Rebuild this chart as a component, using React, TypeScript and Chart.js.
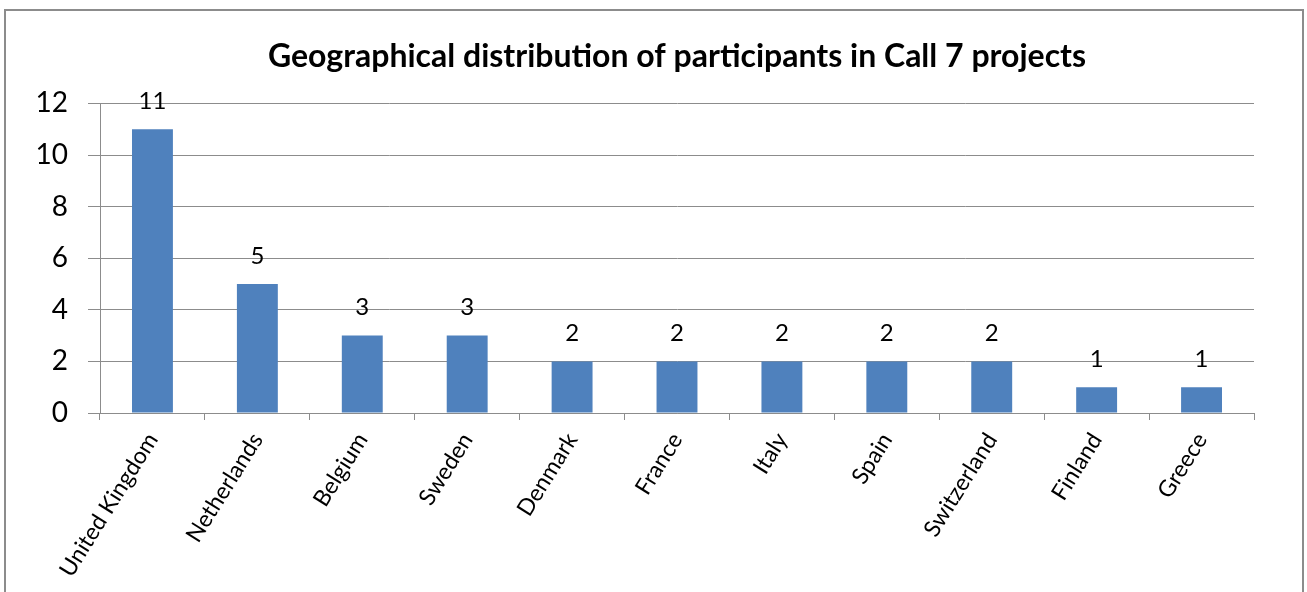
import React, { useEffect, useRef } from "react";
import { Chart, registerables } from "chart.js";

Chart.register(...registerables);

const categories = ["United Kingdom", "Netherlands", "Belgium", "Sweden", "Denmark", "France", "Italy", "Spain", "Switzerland", "Finland", "Greece"];
const participants = [11, 5, 3, 3, 2, 2, 2, 2, 2, 1, 1];
const yTicks = [0, 2, 4, 6, 8, 10, 12];
const titleText = "Geographical distribution of participants in Call 7 projects";

const FONT = "Lato, 'Open Sans', sans-serif";

const framePlugin = {
  id: "frame",
  beforeDraw(chart: any) {
    const ctx = chart.ctx;
    ctx.save();
    ctx.fillStyle = "#ffffff";
    ctx.fillRect(0, 0, chart.width, chart.height);
    ctx.strokeStyle = "#8c8c8c";
    ctx.lineWidth = 2;
    ctx.strokeRect(5, 10, 1298, 620);
    ctx.restore();
  },
};

const valueLabelPlugin = {
  id: "valueLabels",
  afterDatasetsDraw(chart: any) {
    const ctx = chart.ctx;
    const meta = chart.getDatasetMeta(0);
    ctx.save();
    ctx.fillStyle = "#000000";
    ctx.font = `24px ${FONT}`;
    ctx.textAlign = "center";
    ctx.textBaseline = "middle";
    meta.data.forEach((bar: any, i: number) => {
      ctx.fillText(String(participants[i]), bar.x, bar.y - 28);
    });
    ctx.restore();
  },
};

export default function App() {
  const ref = useRef<HTMLCanvasElement>(null);
  useEffect(() => {
    if (!ref.current) return;
    const chart = new Chart(ref.current, {
      type: "bar",
      data: {
        labels: categories,
        datasets: [
          {
            data: participants,
            backgroundColor: "#4F81BD",
            borderWidth: 0,
            barPercentage: 0.39,
            categoryPercentage: 1,
          },
        ],
      },
      options: {
        animation: false,
        responsive: true,
        maintainAspectRatio: false,
        layout: { padding: { left: 0, right: 53, top: 0, bottom: 0 } },
        plugins: {
          legend: { display: false },
          tooltip: { enabled: false },
          title: {
            display: true,
            fullSize: false,
            text: titleText,
            color: "#000000",
            font: { family: FONT, size: 32, weight: "bold" },
            padding: { top: 37, bottom: 28 },
          },
        },
        scales: {
          x: {
            offset: true,
            grid: { drawOnChartArea: false, drawTicks: true, tickLength: 7, color: "#8c8c8c", offset: true },
            border: { color: "#8c8c8c", width: 1 },
            ticks: {
              color: "#000000",
              font: { family: FONT, size: 23 },
              minRotation: 58,
              maxRotation: 58,
              autoSkip: false,
              padding: 8,
            },
            afterFit(scale: any) {
              scale.height = 592 - 413;
            },
          },
          y: {
            min: 0,
            max: 12,
            afterBuildTicks(scale: any) {
              scale.ticks = yTicks.map((v) => ({ value: v }));
            },
            grid: { color: "#8c8c8c", tickLength: 12, drawTicks: true },
            border: { color: "#8c8c8c", width: 1 },
            ticks: {
              color: "#000000",
              font: { family: FONT, size: 28 },
              padding: 20,
            },
            afterFit(scale: any) {
              scale.width = 100;
            },
          },
        },
      },
      plugins: [framePlugin, valueLabelPlugin],
    });
    return () => chart.destroy();
  }, []);
  return (
    <div style={{ position: "absolute", left: 0, top: 0, width: 1307, height: 592 }}>
      <canvas ref={ref} />
    </div>
  );
}
